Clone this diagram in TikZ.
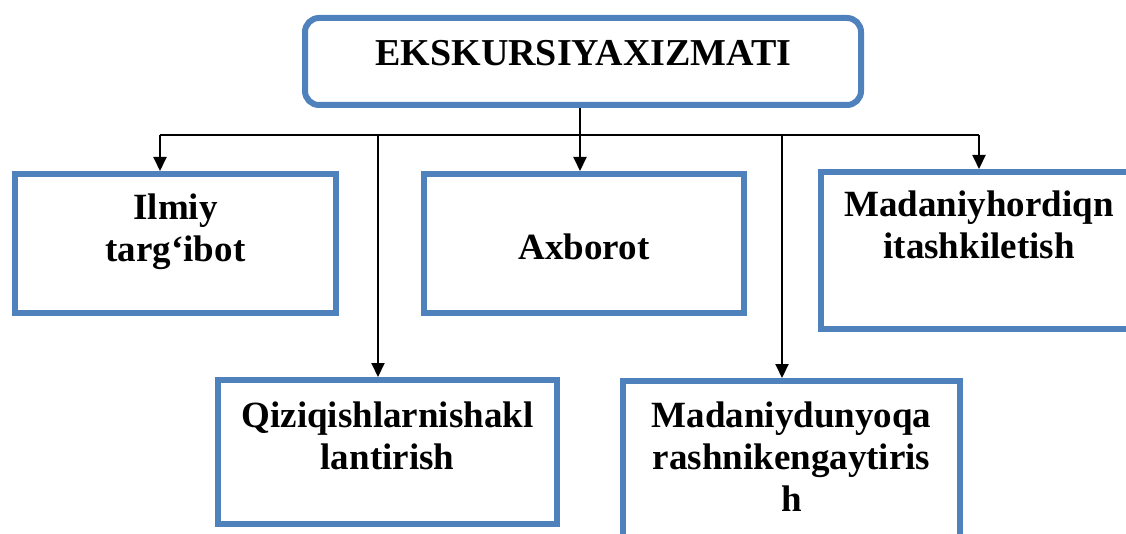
\documentclass[tikz,border=0pt]{standalone}
\usepackage{fontspec}
\setmainfont{Liberation Serif}
\usetikzlibrary{arrows.meta}
\definecolor{boxblue}{RGB}{79,129,189}
\newcommand{\mylines}[1]{\begin{tabular}[t]{@{}c@{}}#1\end{tabular}}
\begin{document}
\begin{tikzpicture}[x=1pt,y=-1pt,
  boxst/.style={draw=boxblue, line width=6pt, rectangle, inner sep=0pt},
  topbox/.style={boxst, rounded corners=14pt},
  txt/.style={anchor=base, inner sep=0pt, font=\fontsize{37}{42}\selectfont\bfseries},
  conn/.style={draw=black, line width=2pt},
  arr/.style={conn, -{Triangle[width=13pt,length=14pt]}}]
\useasboundingbox (0,0) rectangle (1126,534);
% boxes
\node[topbox, minimum width=556pt, minimum height=87pt] (top) at (583,61.5) {};
\node[boxst, minimum width=321pt, minimum height=139pt] (il) at (175.5,243.5) {};
\node[boxst, minimum width=320pt, minimum height=139pt] (ax) at (584,243.5) {};
\node[boxst, minimum width=316pt, minimum height=157pt] (mh) at (979,250.5) {};
\node[boxst, minimum width=339pt, minimum height=144pt] (qz) at (387.5,452) {};
\node[boxst, minimum width=337pt, minimum height=179pt] (md) at (791.5,470.5) {};
% texts
\node[txt, font=\fontsize{38}{42}\selectfont\bfseries] (topT) at (583.5,65.5) {EKSKURSIYAXIZMATI};
\node[txt] (ilT) at (175.5,220) {\mylines{Ilmiy\\targ‘ibot}};
\node[txt] (axT) at (584,260) {Axborot};
\node[txt] (mhT) at (979,217) {\mylines{Madaniyhordiqn\\itashkiletish}};
\node[txt] (qzT) at (387.5,427) {\mylines{Qiziqishlarnishakl\\lantirish}};
\node[txt] (mdT) at (791.5,427) {\mylines{Madaniydunyoqa\\rashnikengaytiris\\h}};
% bus coordinates
\coordinate (b1) at (160,135);
\coordinate (b2) at (378,135);
\coordinate (b3) at (580,135);
\coordinate (b4) at (782,135);
\coordinate (b5) at (979,135);
% connectors
\draw[conn] (b1) -- (b5);
\draw[arr] (b3 |- top.south) -- (b3 |- ax.north);
\draw[arr] (b1) -- (b1 |- il.north);
\draw[arr] (b5) -- (b5 |- mh.north);
\draw[arr] (b2) -- (b2 |- qz.north);
\draw[arr] (b4) -- (b4 |- md.north);
\end{tikzpicture}
\end{document}
